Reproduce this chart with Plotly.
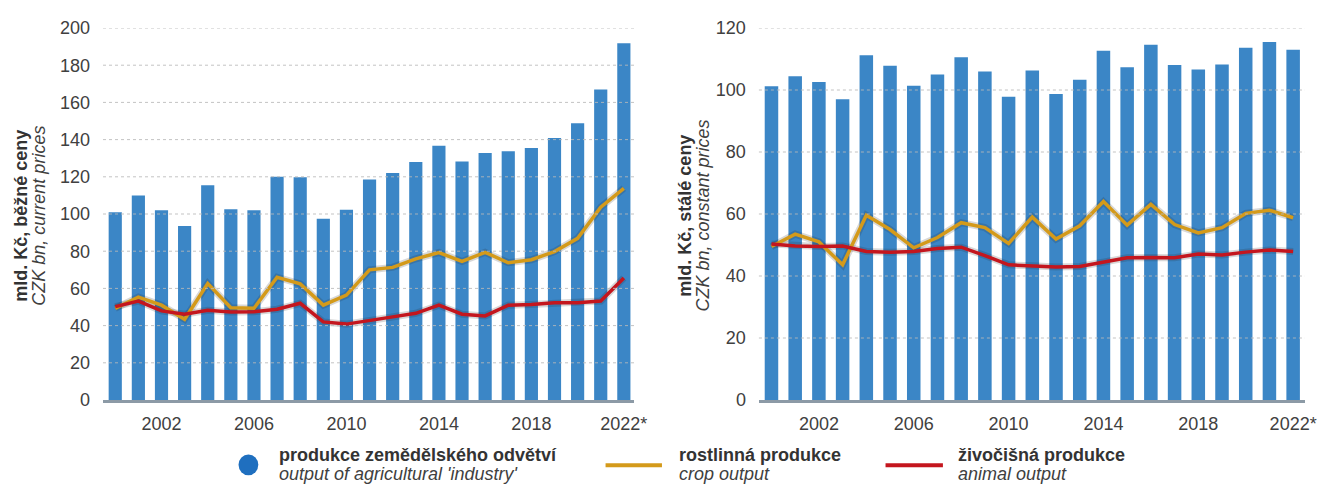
import plotly.graph_objects as go
from plotly.subplots import make_subplots

years = list(range(2000, 2023))
tick_years = [2002, 2006, 2010, 2014, 2018, 2022]
tick_year_labels = ["2002", "2006", "2010", "2014", "2018", "2022*"]

current_total = [101, 110, 102, 93.5, 115.5, 102.5, 102, 120, 119.7, 97.5, 102.3, 118.6,
                 122, 128, 136.7, 128.2, 132.8, 133.7, 135.5, 140.8, 148.8, 167, 191.8]
current_crop = [49.3, 55.3, 51, 43.4, 62.6, 49.6, 49.3, 66, 62.4, 51, 56.4, 70,
                71.3, 75.9, 79.3, 74.5, 79.4, 73.8, 75.4, 79.8, 86.9, 103.7, 113.8]
current_animal = [50.2, 53.2, 47.9, 46.1, 48.2, 47.3, 47.5, 48.8, 52, 42, 40.8, 42.9,
                  44.7, 46.6, 51, 46.1, 45.2, 51, 51.4, 52.3, 52.3, 53.2, 65.6]

constant_total = [101.2, 104.4, 102.6, 97, 111.2, 107.8, 101.4, 105, 110.6, 106, 97.8, 106.3,
                  98.7, 103.3, 112.7, 107.3, 114.6, 108.1, 106.6, 108.2, 113.6, 115.5, 113]
constant_crop = [49.5, 53.5, 51, 43.6, 59.6, 55, 49.1, 52.4, 57.2, 55.6, 50.5, 59,
                 51.9, 56.2, 64, 56.4, 63.1, 56.6, 53.9, 55.6, 60.2, 61.2, 58.8]
constant_animal = [50.3, 49.7, 49.5, 49.7, 47.9, 47.7, 47.9, 48.9, 49.3, 46.6, 43.6, 43.3,
                   42.9, 43.1, 44.5, 45.9, 46, 45.9, 47.1, 46.8, 47.7, 48.4, 47.9]

left_yticks = [0, 20, 40, 60, 80, 100, 120, 140, 160, 180, 200]
right_yticks = [0, 20, 40, 60, 80, 100, 120]

series_names = ["produkce zemědělského odvětví", "rostlinná produkce", "živočišná produkce"]
series_names_en = ["output of agricultural 'industry'", "crop output", "animal output"]

BAR = "#3b86c6"
GOLD = "#d49a1a"
RED = "#c4161e"
TXT = "#404040"
FONT = "Liberation Sans"

# the page body adds an 8px margin; lay the figure out in page pixels
OFF = 8
PAGE_W, PAGE_H = 1328, 484
W, H = PAGE_W - OFF, PAGE_H - OFF
# plot area edges in page pixels
P_LEFT, P_RIGHT, P_TOP, P_BOTTOM = 103, 1318, 24, 400
ML, MR = P_LEFT - OFF, PAGE_W - P_RIGHT
MT, MB = P_TOP - OFF, PAGE_H - P_BOTTOM
PW = P_RIGHT - P_LEFT
PH = P_BOTTOM - P_TOP


def px_x(p):
    return (p - P_LEFT) / PW


def px_y(p):
    return (P_BOTTOM - p) / PH


fig = make_subplots(rows=1, cols=2, horizontal_spacing=0.1)

panels = [
    (1, current_total, current_crop, current_animal),
    (2, constant_total, constant_crop, constant_animal),
]
for col, tot, crop, anim in panels:
    fig.add_trace(go.Bar(x=years, y=tot, marker=dict(color=BAR, line=dict(width=0)),
                         name=series_names[0], showlegend=False), row=1, col=col)
    for vals in (crop, anim):
        fig.add_trace(go.Scatter(x=years, y=vals, mode="lines",
                                 line=dict(color="rgba(40,40,40,0.18)", width=7),
                                 hoverinfo="skip", showlegend=False), row=1, col=col)
    fig.add_trace(go.Scatter(x=years, y=crop, mode="lines", line=dict(color=GOLD, width=3.5),
                             name=series_names[1], showlegend=False), row=1, col=col)
    fig.add_trace(go.Scatter(x=years, y=anim, mode="lines", line=dict(color=RED, width=3.5),
                             name=series_names[2], showlegend=False), row=1, col=col)

fig.update_layout(
    width=W, height=H,
    margin=dict(l=ML, r=MR, t=MT, b=MB),
    paper_bgcolor="white", plot_bgcolor="white",
    bargap=0.43,
    font=dict(family=FONT, size=18, color=TXT),
    showlegend=False,
)

fig.update_xaxes(domain=[0, px_x(640)], range=[1999.47, 2022.45], row=1, col=1)
fig.update_xaxes(domain=[px_x(766), 1], range=[1999.47, 2022.5], row=1, col=2)
fig.update_xaxes(tickvals=tick_years, ticktext=tick_year_labels, showgrid=False,
                 showline=True, linecolor="#8c9aa6", linewidth=2.5, ticks="",
                 ticklabelstandoff=6, tickfont=dict(size=18, color=TXT, family=FONT))
fig.update_yaxes(range=[0, 200], tickvals=left_yticks, row=1, col=1)
fig.update_yaxes(range=[0, 120], tickvals=right_yticks, row=1, col=2)
fig.update_yaxes(showgrid=False, zeroline=False, showline=False, ticks="",
                 ticklabelstandoff=12, tickfont=dict(size=18, color=TXT, family=FONT))

shapes = []
# gridlines drawn above bars (dotted)
for axn, ticks in [("", left_yticks), ("2", right_yticks)]:
    for v in ticks[1:]:
        shapes.append(dict(type="line", xref=f"x{axn} domain", yref=f"y{axn}",
                           x0=0, x1=1, y0=v, y1=v, layer="above",
                           line=dict(color="rgba(185,185,185,0.85)", width=1, dash="dot")))
# legend symbols
shapes.append(dict(type="circle", xref="paper", yref="paper",
                   x0=px_x(240), x1=px_x(260), y0=px_y(476), y1=px_y(455),
                   fillcolor="#1f6fbf", line=dict(width=0)))
shapes.append(dict(type="line", xref="paper", yref="paper",
                   x0=px_x(611), x1=px_x(668), y0=px_y(466), y1=px_y(466),
                   line=dict(color=GOLD, width=4)))
shapes.append(dict(type="line", xref="paper", yref="paper",
                   x0=px_x(894), x1=px_x(952), y0=px_y(466), y1=px_y(466),
                   line=dict(color=RED, width=4)))

annotations = []
# axis titles
for xb, xi, t_b, t_i in [(20, 38, "mld. Kč, běžné ceny", "CZK bn, current prices"),
                         (691, 709, "mld. Kč, stálé ceny", "CZK bn, constant prices")]:
    annotations.append(dict(xref="paper", yref="paper", x=px_x(xb), y=px_y(214),
                            text=f"<b>{t_b}</b>", textangle=-90, showarrow=False,
                            xanchor="center", yanchor="middle",
                            font=dict(size=18, color="#333333", family=FONT)))
    annotations.append(dict(xref="paper", yref="paper", x=px_x(xi), y=px_y(214),
                            text=f"<i>{t_i}</i>", textangle=-90, showarrow=False,
                            xanchor="center", yanchor="middle",
                            font=dict(size=18, color=TXT, family=FONT)))
# legend texts
for xs, nm, en in zip([279, 683, 965], series_names, series_names_en):
    annotations.append(dict(xref="paper", yref="paper", x=px_x(xs), y=px_y(456),
                            text=f"<b>{nm}</b>", showarrow=False,
                            xanchor="left", yanchor="middle",
                            font=dict(size=18, color="#333333", family=FONT)))
    annotations.append(dict(xref="paper", yref="paper", x=px_x(xs), y=px_y(475),
                            text=f"<i>{en}</i>", showarrow=False,
                            xanchor="left", yanchor="middle",
                            font=dict(size=18, color=TXT, family=FONT)))

fig.update_layout(shapes=shapes, annotations=annotations)
fig.write_html("out.html")
